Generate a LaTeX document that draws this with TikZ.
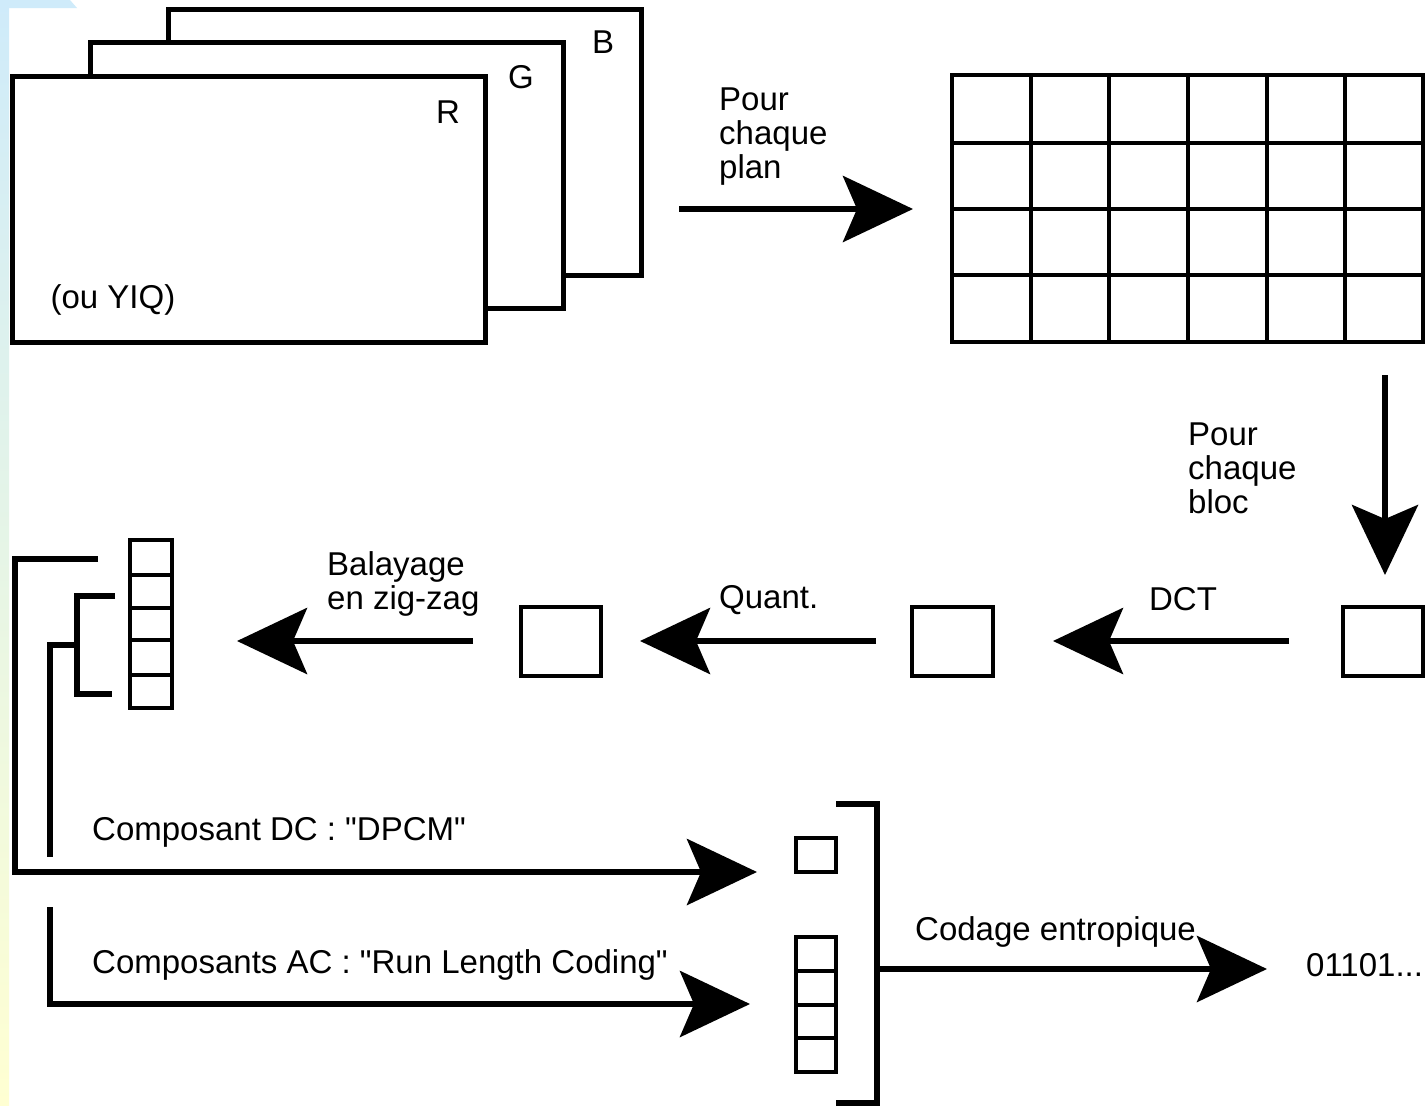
\documentclass[tikz,border=0pt]{standalone}
\usepackage{fontspec}
\setmainfont{Liberation Sans}[Ligatures=TeXOff]
\usetikzlibrary{arrows.meta}
\definecolor{bgblue}{HTML}{CFEBFA}
\definecolor{bgyellow}{HTML}{FFFFD2}
\definecolor{bgmid}{HTML}{E6F5E6}
\begin{document}
\begin{tikzpicture}[x=1pt,y=-1pt,
  txt/.style={font=\fontsize{33}{34}\selectfont, inner sep=0pt, align=left},
  plane/.style={draw, fill=white, line width=5pt, minimum width=473pt, minimum height=266pt, inner sep=0pt},
  cell/.style={draw, line width=4pt, inner sep=0pt},
  arr/.style={line width=6pt, -{Stealth[length=70pt,width=66pt,inset=14pt]}},
  brk/.style={line width=6pt}
]
\useasboundingbox (0,0) rectangle (1428,1106);
\fill[white] (0,0) rectangle (1428,1106);
\shade[top color=bgblue, bottom color=bgyellow, middle color=bgmid] (0,0) rectangle (9,1106);
\fill[bgblue] (0,0) -- (70,0) -- (77,8) -- (0,8) -- cycle;

% colour planes
\node[plane] (planeB) at (405,142) {};
\node[plane] (planeG) at (326.5,175.5) {};
\node[plane] (planeR) at (248.5,209) {};
\node[txt] (lB) at (603,42) {B};
\node[txt] (lG) at (521,77) {G};
\node[txt] (lR) at (448,112) {R};
\node[txt] (lyiq) at (113,300) {(ou YIQ)};

% block grid
\node[draw, line width=4.5pt, minimum width=471pt, minimum height=267pt, inner sep=0pt] (grid) at (1187.5,208.5) {};
\foreach \x in {1031,1109,1188,1267,1345} \draw[line width=4pt] (\x,75) -- (\x,342);
\foreach \y in {143,209,275} \draw[line width=4pt] (952,\y) -- (1423,\y);

% arrow 1
\coordinate (a1s) at (679,209);
\coordinate (a1e) at (913,209);
\draw[arr] (a1s) -- (a1e);
\node[txt, anchor=west] (lplan) at (719,137) {Pour\\chaque\\plan};

% arrow down
\coordinate (a2s) at (1385,375);
\coordinate (a2e) at (1385,575);
\draw[arr] (a2s) -- (a2e);
\node[txt, anchor=west] (lbloc) at (1188,468) {Pour\\chaque\\bloc};

% blocks
\node[cell, minimum width=80pt, minimum height=69pt] (sq1) at (1383,641) {};
\node[cell, minimum width=81pt, minimum height=69pt] (sq2) at (952.5,641) {};
\node[cell, minimum width=80pt, minimum height=69pt] (sq3) at (561,641) {};

\coordinate (dcts) at (1289,641);
\coordinate (dcte) at (1053,641);
\draw[arr] (dcts) -- (dcte);
\node[txt] (ldct) at (1183,599) {DCT};

\coordinate (qs) at (876,641);
\coordinate (qe) at (640,641);
\draw[arr] (qs) -- (qe);
\node[txt, anchor=west] (lq) at (719,600) {Quant.};

\coordinate (zs) at (473,641);
\coordinate (ze) at (237,641);
\draw[arr] (zs) -- (ze);
\node[txt, anchor=west] (lzz) at (327,584) {Balayage\\en zig-zag};

% zig-zag vector
\node[cell, minimum width=42pt, minimum height=168pt] (vec) at (151,624) {};
\foreach \y in {575,608,640,675} \draw[line width=4pt] (130,\y) -- (172,\y);

% brackets and DC / AC arrows
\coordinate (ob1) at (98,559);
\coordinate (ob2) at (15,559);
\coordinate (ob3) at (15,872);
\coordinate (dce) at (757,872);
\draw[arr, line join=miter] (ob1) -- (ob2) -- (ob3) -- (dce);
\node[txt, anchor=west] (ldc) at (92,832) {Composant DC : "DPCM"};

\coordinate (ib1) at (115,596);
\coordinate (ib2) at (77,596);
\coordinate (ib3) at (77,694);
\coordinate (ib4) at (112,694);
\draw[brk] (ib1) -- (ib2) -- (ib3) -- (ib4);
\coordinate (is1) at (77,645);
\coordinate (is2) at (50,645);
\coordinate (is3) at (50,857);
\draw[brk] (is1) -- (is2) -- (is3);

\coordinate (ac1) at (50,907);
\coordinate (ac2) at (50,1004);
\coordinate (ace) at (750,1004);
\draw[arr] (ac1) -- (ac2) -- (ace);
\node[txt, anchor=west] (lac) at (92,965) {Composants AC : "Run Length Coding"};

% DC / AC blocks
\node[cell, minimum width=40pt, minimum height=34pt] (dcsq) at (816,855) {};
\node[cell, minimum width=40pt, minimum height=135pt] (acvec) at (816,1004.5) {};
\foreach \y in {971,1005,1038} \draw[line width=4pt] (796,\y) -- (836,\y);

% big bracket
\coordinate (bb1) at (836,804);
\coordinate (bb2) at (877,804);
\coordinate (bb3) at (877,1103);
\coordinate (bb4) at (836,1103);
\draw[brk] (bb1) -- (bb2) -- (bb3) -- (bb4);

\coordinate (ce1) at (877,969);
\coordinate (ce2) at (1267,969);
\draw[arr] (ce1) -- (ce2);
\node[txt, anchor=west] (lce) at (915,932) {Codage entropique};
\node[txt, anchor=west] (lout) at (1306,965) {01101...};
\end{tikzpicture}
\end{document}
